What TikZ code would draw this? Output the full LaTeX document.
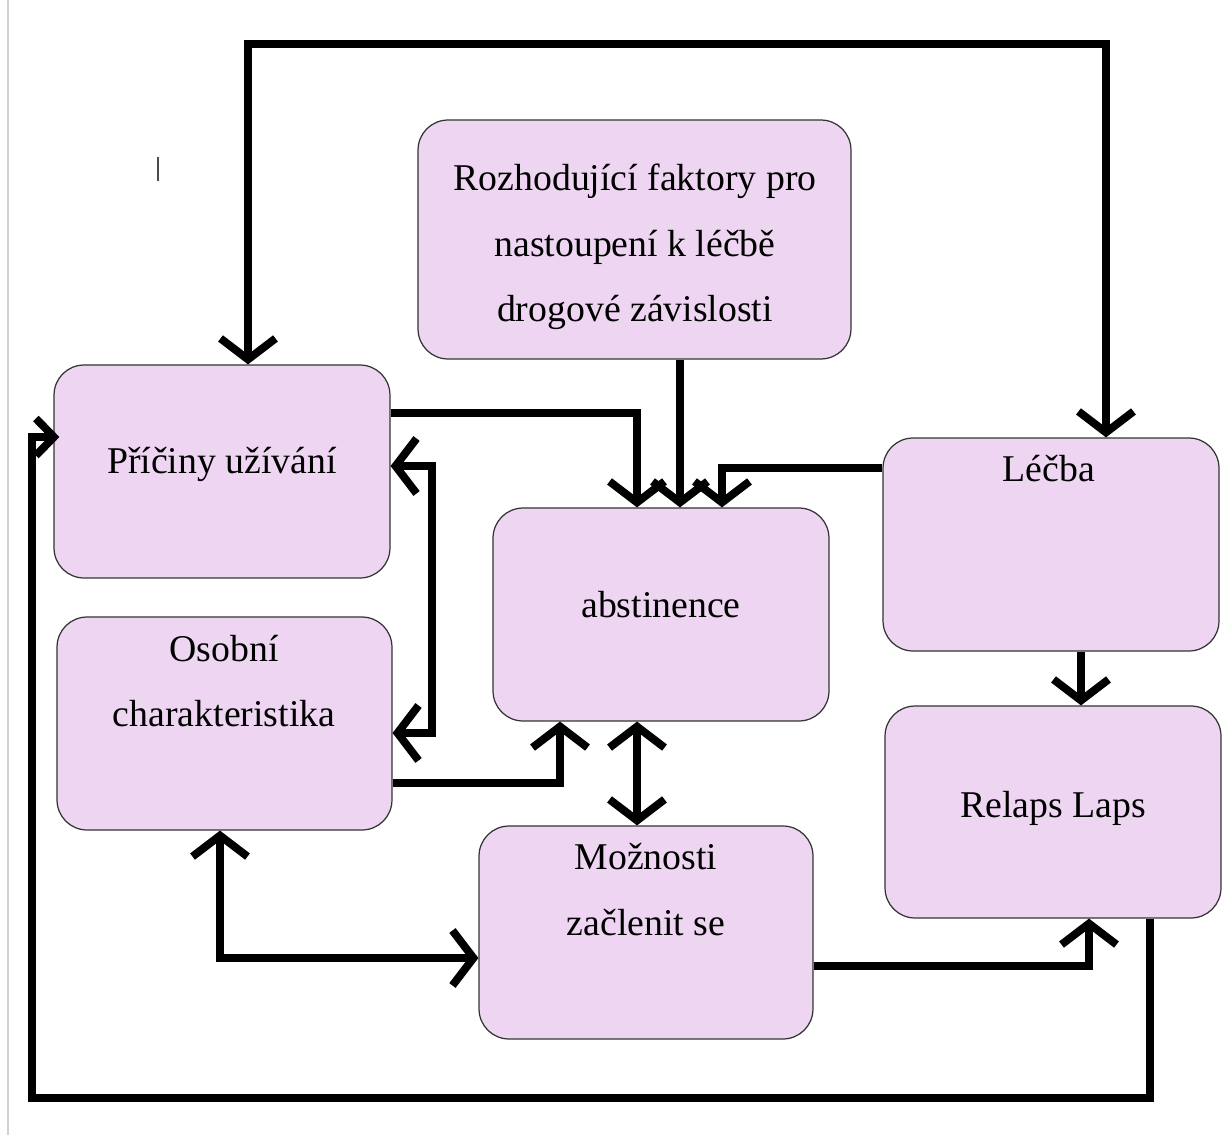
\documentclass[tikz,border=0pt]{standalone}
\usepackage{fontspec}
\setmainfont{Liberation Serif}
\usetikzlibrary{arrows.meta,calc}
\definecolor{boxfill}{HTML}{EED6F2}
\definecolor{boxline}{HTML}{333333}
\tikzset{
  box/.style={draw=boxline, line width=0.7pt, fill=boxfill, rounded corners=0.6cm, inner sep=0pt},
  lbl/.style={anchor=base, font=\fontsize{21.5}{37}\selectfont, align=center, inner sep=0pt},
  conn/.style={line width=4.5pt, line cap=butt, line join=miter, draw=black,
    arrows={-Straight Barb[length=0.42cm, width=1.1cm, line width=4.5pt]}},
  dconn/.style={conn, arrows={Straight Barb[length=0.42cm, width=1.1cm, line width=4.5pt]-Straight Barb[length=0.42cm, width=1.1cm, line width=4.5pt]}},
  sconn/.style={conn, arrows={-Straight Barb[length=0.36cm, width=0.74cm, line width=4.5pt]}}
}
\begin{document}
\begin{tikzpicture}[x=0.02cm, y=-0.02cm]
\useasboundingbox (0,0) rectangle (1224,1135);
\fill[white] (0,0) rectangle (1224,1135);
\draw[line width=0.6pt, draw=black!18] (8,0) -- (8,1135);
\draw[line width=0.6pt, draw=black!70] (158,157) -- (158,181);

% boxes
\node[box, minimum width=8.66cm, minimum height=4.78cm] (top) at (634.5,239.5) {};
\node[box, minimum width=6.72cm, minimum height=4.26cm] (pric) at (222,471.5) {};
\node[box, minimum width=6.70cm, minimum height=4.26cm] (osob) at (224.5,723.5) {};
\node[box, minimum width=6.72cm, minimum height=4.26cm] (abst) at (661,614.5) {};
\node[box, minimum width=6.72cm, minimum height=4.26cm] (lecba) at (1051,544.5) {};
\node[box, minimum width=6.72cm, minimum height=4.24cm] (relaps) at (1053,812) {};
\node[box, minimum width=6.68cm, minimum height=4.26cm] (mozn) at (646,932.5) {};

% texts
\node[lbl] (topt1) at (635,191) {Rozhodující faktory pro};
\node[lbl] (topt2) at (635,256) {nastoupení k léčbě};
\node[lbl] (topt3) at (635,321) {drogové závislosti};
\node[lbl] (prict) at (222,473) {Příčiny užívání};
\node[lbl] (osobt1) at (224,661) {Osobní};
\node[lbl] (osobt2) at (224,726) {charakteristika};
\node[lbl] (abstt) at (661,617) {abstinence};
\node[lbl] (lecbat) at (1049,481) {Léčba};
\node[lbl] (relapst) at (1053,817) {Relaps Laps};
\node[lbl] (moznt1) at (646,869) {Možnosti};
\node[lbl] (moznt2) at (646,935) {začlenit se};

% helper coordinates for bends
\coordinate (ctop) at (600,44);
\coordinate (c432) at (432,600);
\coordinate (cbot) at (600,1098);
\coordinate (cleft) at (32,600);

% connectors
\draw[dconn] ([xshift=0.52cm]pric.north) |- (ctop) -| ([xshift=1.1cm]lecba.north);
\draw[conn] ([yshift=1.17cm]pric.east) -| ([xshift=-0.48cm]abst.north);
\draw[conn] ([xshift=0.91cm]top.south) -- ([xshift=0.91cm]top.south |- abst.north);
\draw[conn] ([yshift=1.53cm]lecba.west) -| ([xshift=1.22cm]abst.north);
\draw[dconn] ([yshift=0.11cm]pric.east) -| (c432) |- ([yshift=-0.19cm]osob.east);
\draw[conn] ([yshift=-1.19cm]osob.east) -| ([xshift=-2.02cm]abst.south);
\draw[dconn] ([xshift=-0.48cm]abst.south) -- ([xshift=-0.48cm]abst.south |- mozn.north);
\draw[dconn] ([xshift=-0.09cm]osob.south) |- ([yshift=-0.51cm]mozn.west);
\draw[conn] ([yshift=-0.67cm]mozn.east) -| ([xshift=0.72cm]relaps.south);
\draw[conn] ([xshift=0.6cm]lecba.south) -- ([xshift=0.6cm]lecba.south |- relaps.north);
\draw[sconn] ([xshift=1.94cm]relaps.south) |- (cbot) -| (cleft) |- ([xshift=0.12cm, yshift=0.69cm]pric.west);
\end{tikzpicture}
\end{document}
